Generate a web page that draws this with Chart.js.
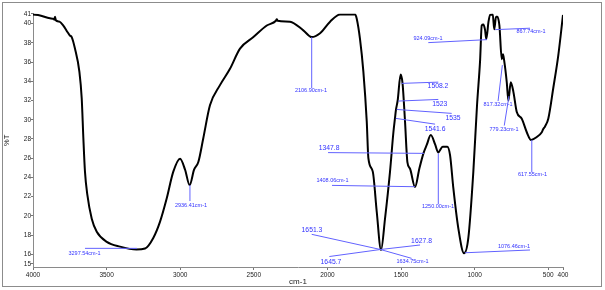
<!DOCTYPE html>
<html>
<head>
<meta charset="utf-8">
<script src="https://cdn.jsdelivr.net/npm/chart.js@4.4.1/dist/chart.umd.min.js"></script>
<style>
  html, body { margin: 0; padding: 0; background: #fff; }
</style>
</head>
<body>
<canvas id="myChart" width="605" height="290"></canvas>
<script>
// IR spectrum
const wavenumbers = [
  4000, 3952, 3885, 3860, 3855, 3850, 3845, 3820, 3794, 3765, 3749, 3737, 3715, 3685,
  3669, 3658, 3647, 3631, 3601, 3567, 3499, 3409, 3297, 3239, 3183, 3137, 3092, 3047,
  3001, 2967, 2936, 2906, 2877, 2843, 2798, 2730, 2662, 2594, 2503, 2412, 2350, 2344,
  2338, 2254, 2164, 2107, 2050, 1982, 1914, 1812, 1801, 1779, 1756, 1733, 1722, 1692,
  1665, 1636, 1609, 1575, 1552, 1541, 1535, 1523, 1503, 1490, 1473, 1457, 1439, 1405,
  1376, 1348, 1325, 1298, 1268, 1248, 1217, 1186, 1167, 1145, 1111, 1072, 1043, 1009,
  984, 963, 952, 941, 930, 921, 906, 895, 877, 867, 855, 846, 832, 816, 808, 800,
  782, 771, 755, 737, 714, 680, 646, 617, 578, 544, 535, 522, 500, 466, 432, 400
];
const transmittance = [
  40.95, 40.85, 40.55, 40.5, 40.4, 40.7, 40.35, 40.2, 39.8, 39.1, 38.75, 38.6, 37.4, 35.0,
  32.2, 28.1, 24.6, 22.2, 19.7, 18.35, 17.3, 16.8, 16.5, 16.6, 17.7, 19.4, 21.8, 24.6,
  25.95, 24.8, 23.2, 24.8, 25.6, 28.1, 31.5, 33.6, 35.3, 37.4, 38.6, 39.8, 40.3, 40.45,
  40.3, 40.2, 39.3, 38.6, 39.0, 40.2, 40.95, 40.95, 40.5, 38.4, 35.0, 29.8, 26.0, 24.6,
  20.4, 16.45, 19.7, 24.6, 28.7, 30.2, 31.0, 32.0, 34.7, 33.8, 29.8, 25.6, 24.9, 23.0,
  24.9, 26.5, 27.4, 28.4, 27.4, 26.6, 27.2, 27.2, 26.3, 22.9, 18.7, 16.1, 17.7, 24.6,
  31.5, 36.2, 39.8, 39.9, 39.4, 38.4, 40.2, 40.9, 40.95, 39.4, 40.7, 40.7, 39.8, 36.3, 36.8, 36.2,
  33.9, 32.0, 33.9, 32.9, 30.8, 30.1, 28.7, 27.9, 28.2, 28.7, 29.0, 29.3, 30.1, 33.3, 36.7, 40.9
];

const xTicks = [4000, 3500, 3000, 2500, 2000, 1500, 1000, 500, 400];
const yTicks = [15, 16, 18, 20, 22, 24, 26, 28, 30, 32, 34, 36, 38, 40, 41];

// peak labels and the point of the curve each one marks
const peakLabels = [
  "3297.54cm-1", "2936.41cm-1", "2106.90cm-1", "1347.8", "1408.06cm-1",
  "1651.3", "1645.7", "1627.8", "1634.75cm-1", "1508.2", "1523", "1535", "1541.6",
  "1250.00cm-1", "1076.46cm-1", "924.09cm-1", "867.74cm-1", "817.32cm-1",
  "779.23cm-1", "617.55cm-1"
];
const peakWn = [
  3294, 2934, 2107, 1344, 1405, 1640, 1640, 1640, 1640, 1496, 1519, 1530, 1536,
  1247, 1066, 916, 862, 812, 767, 612
];
const peakT = [
  16.62, 23.2, 38.59, 26.5, 23.03, 16.5, 16.5, 16.5, 16.5, 33.78, 31.94, 31.07, 30.14,
  26.5, 16.16, 38.33, 39.37, 35.68, 32.46, 27.88
];

// where each callout line ends and where its text sits (axis units)
const callouts = [
  { end: [3647, 16.62], text: [3650, 16.1], big: false },
  { end: [2934, 21.54], text: [2927, 21.07], big: false },
  { end: [2107, 33.29], text: [2112, 33.03], big: false },
  { end: [1996, 26.58], text: [1989, 27.02], big: true },
  { end: [1969, 23.17], text: [1966, 23.65], big: false },
  { end: [2107, 18.08], text: [2105, 18.55], big: true },
  { end: [1987, 15.77], text: [1976, 15.23], big: true },
  { end: [1371, 16.97], text: [1361, 17.41], big: true },
  { end: [1428, 15.58], text: [1422, 15.3], big: false },
  { end: [1247, 33.91], text: [1249, 33.46], big: true },
  { end: [1247, 32.11], text: [1237, 31.59], big: true },
  { end: [1156, 30.66], text: [1147, 30.2], big: true },
  { end: [1269, 29.54], text: [1269, 28.99], big: true },
  { end: [1247, 21.23], text: [1249, 20.95], big: false },
  { end: [624, 16.45], text: [733, 16.79], big: false },
  { end: [1315, 38.02], text: [1317, 38.41], big: false },
  { end: [624, 39.52], text: [617, 39.18], big: false },
  { end: [841, 31.94], text: [841, 31.57], big: false },
  { end: [799, 29.39], text: [801, 29.03], big: false },
  { end: [612, 24.56], text: [607, 24.3], big: false }
];

const calloutPlugin = {
  id: "callouts",
  afterDatasetsDraw(chart) {
    const { ctx, scales: { x, y } } = chart;
    ctx.save();
    peakLabels.forEach((label, i) => {
      const c = callouts[i];
      ctx.strokeStyle = "#6262ff";
      ctx.lineWidth = 1;
      ctx.beginPath();
      ctx.moveTo(x.getPixelForValue(peakWn[i]), y.getPixelForValue(peakT[i]));
      ctx.lineTo(x.getPixelForValue(c.end[0]), y.getPixelForValue(c.end[1]));
      ctx.stroke();
      ctx.font = (c.big ? "6.8px" : "5.5px") + " 'Liberation Sans', Arial, sans-serif";
      ctx.fillStyle = "#3232ff";
      ctx.textAlign = "center";
      ctx.textBaseline = "middle";
      ctx.fillText(label, x.getPixelForValue(c.text[0]), y.getPixelForValue(c.text[1]));
    });
    ctx.restore();
  }
};

const framePlugin = {
  id: "frame",
  afterDraw(chart) {
    const ctx = chart.ctx;
    ctx.save();
    ctx.strokeStyle = "#8c8c8c";
    ctx.lineWidth = 1;
    ctx.strokeRect(2.5, 2.5, 599, 284);
    ctx.restore();
  }
};

const ctx = document.getElementById("myChart").getContext("2d");
const myChart = new Chart(ctx, {
  type: "line",
  data: {
    datasets: [
      {
        label: "%T",
        data: wavenumbers.map((w, i) => ({ x: w, y: transmittance[i] })),
        borderColor: "#000",
        borderWidth: 2,
        pointRadius: 0,
        cubicInterpolationMode: "monotone",
        fill: false
      }
    ]
  },
  options: {
    responsive: false,
    animation: false,
    devicePixelRatio: 1,
    layout: { padding: { left: 0, right: 42, top: 13.5, bottom: 0 } },
    plugins: {
      legend: { display: false },
      tooltip: { enabled: false }
    },
    scales: {
      x: {
        type: "linear",
        reverse: true,
        min: 400,
        max: 4000,
        afterBuildTicks: (s) => { s.ticks = xTicks.map((v) => ({ value: v })); },
        afterFit: (s) => { s.height = 23; },
        grid: { drawOnChartArea: false, drawTicks: true, tickLength: 3, color: "#777" },
        border: { display: true, color: "#8a8a8a", width: 1 },
        ticks: {
          autoSkip: false,
          maxRotation: 0,
          padding: 1,
          color: "#222",
          callback: (v) => String(v),
          font: { family: "'Liberation Sans', Arial, sans-serif", size: 6.5 }
        },
        title: {
          display: true,
          text: "cm-1",
          color: "#222",
          padding: { top: 0, bottom: 3 },
          font: { family: "'Liberation Sans', Arial, sans-serif", size: 8 }
        }
      },
      y: {
        min: 14.68,
        max: 41.05,
        afterBuildTicks: (s) => { s.ticks = yTicks.map((v) => ({ value: v })); },
        afterFit: (s) => { s.width = 33; },
        grid: { drawOnChartArea: false, drawTicks: true, tickLength: 2, color: "#777" },
        border: { display: true, color: "#8a8a8a", width: 1 },
        ticks: {
          autoSkip: false,
          padding: 0,
          color: "#222",
          callback: (v) => String(v),
          font: { family: "'Liberation Sans', Arial, sans-serif", size: 6.5 }
        },
        title: {
          display: true,
          text: "%T",
          color: "#222",
          padding: { top: 2.5, bottom: 0 },
          font: { family: "'Liberation Sans', Arial, sans-serif", size: 7.5 }
        }
      }
    }
  },
  plugins: [calloutPlugin, framePlugin]
});
</script>
</body>
</html>
